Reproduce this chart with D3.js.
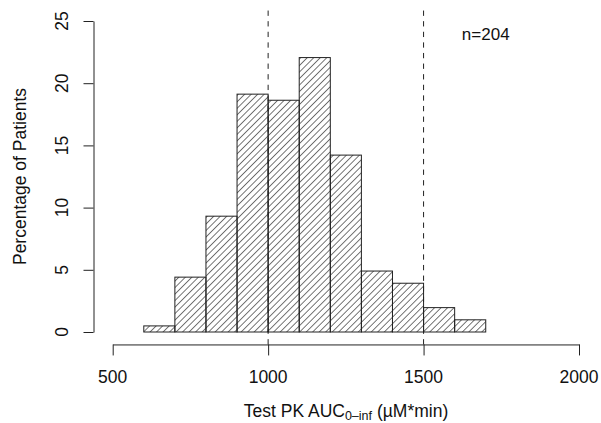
<!DOCTYPE html>
<html>
<head>
<meta charset="utf-8">
<script src="https://cdn.jsdelivr.net/npm/d3@7"></script>
<style>
  body { margin: 0; background: #fff; }
  svg text { font-family: "Liberation Sans", Arial, sans-serif; fill: #111; }
</style>
</head>
<body>
<div id="chart"></div>
<script>
// histogram bins (AUC, uM*min) and percentage of patients per bin
const binStarts = [600, 700, 800, 900, 1000, 1100, 1200, 1300, 1400, 1500, 1600];
const binWidth = 100;
const percents = [0.49, 4.41, 9.31, 19.12, 18.63, 22.06, 14.22, 4.90, 3.92, 1.96, 0.98];
const xTicks = [500, 1000, 1500, 2000];
const yTicks = [0, 5, 10, 15, 20, 25];
const cutoffs = [1000, 1500];
const sampleLabel = "n=204";

const width = 601;
const height = 423;

const x = d3.scaleLinear().domain([500, 2000]).range([112.7, 579]);
const y = d3.scaleLinear().domain([0, 25]).range([332, 21]);

const svg = d3
  .select("#chart")
  .append("svg")
  .attr("width", width)
  .attr("height", height);

const defs = svg.append("defs");
defs
  .append("pattern")
  .attr("id", "hatch")
  .attr("patternUnits", "userSpaceOnUse")
  .attr("width", 4.6)
  .attr("height", 4.6)
  .attr("patternTransform", "rotate(45)")
  .append("line")
  .attr("x1", 0)
  .attr("y1", 0)
  .attr("x2", 0)
  .attr("y2", 4.6)
  .attr("stroke", "#1a1a1a")
  .attr("stroke-width", 1.2);

// bars
svg
  .append("g")
  .selectAll("rect")
  .data(binStarts)
  .join("rect")
  .attr("x", (d) => x(d))
  .attr("y", (d, i) => y(percents[i]))
  .attr("width", (d) => x(d + binWidth) - x(d))
  .attr("height", (d, i) => y(0) - y(percents[i]))
  .attr("fill", "url(#hatch)")
  .attr("stroke", "#222")
  .attr("stroke-width", 1);

// dashed reference lines across the plot region
svg
  .append("g")
  .selectAll("line")
  .data(cutoffs)
  .join("line")
  .attr("x1", (d) => x(d))
  .attr("x2", (d) => x(d))
  .attr("y1", y(26))
  .attr("y2", y(-1))
  .attr("stroke", "#222")
  .attr("stroke-width", 1)
  .attr("stroke-dasharray", "5.3,5.3")
  .attr("stroke-dashoffset", -2);

// x axis
const xAxis = svg
  .append("g")
  .attr("transform", `translate(0,${y(-1)})`)
  .call(d3.axisBottom(x).tickValues(xTicks).tickSize(11).tickSizeOuter(0).tickFormat(""));
xAxis.selectAll("path, line").attr("stroke", "#222");

svg
  .append("g")
  .selectAll("text")
  .data(xTicks)
  .join("text")
  .attr("x", (d) => x(d))
  .attr("y", 383)
  .attr("text-anchor", "middle")
  .attr("font-size", 17.5)
  .text((d) => d);

// y axis
const yAxis = svg
  .append("g")
  .attr("transform", "translate(93.5,0)")
  .call(d3.axisLeft(y).tickValues(yTicks).tickSize(10).tickSizeOuter(0).tickFormat(""));
yAxis.selectAll("path, line").attr("stroke", "#222");

svg
  .append("g")
  .selectAll("text")
  .data(yTicks)
  .join("text")
  .attr("transform", (d) => `translate(68,${y(d)}) rotate(-90)`)
  .attr("text-anchor", "middle")
  .attr("font-size", 17.5)
  .text((d) => d);

// axis titles
const xTitle = svg
  .append("text")
  .attr("x", 346)
  .attr("y", 416.5)
  .attr("text-anchor", "middle")
  .attr("font-size", 17.5);
xTitle.append("tspan").text("Test PK AUC");
xTitle.append("tspan").attr("font-size", 12.5).attr("dy", 3).text("0\u2013inf");
xTitle.append("tspan").attr("dy", -3).text(" (\u00b5M*min)");

svg
  .append("text")
  .attr("transform", "translate(26,176.5) rotate(-90)")
  .attr("text-anchor", "middle")
  .attr("font-size", 17.5)
  .text("Percentage of Patients");

// sample size annotation
svg
  .append("text")
  .attr("x", x(1700))
  .attr("y", y(24) + 6.5)
  .attr("text-anchor", "middle")
  .attr("font-size", 17)
  .text(sampleLabel);
</script>
</body>
</html>
